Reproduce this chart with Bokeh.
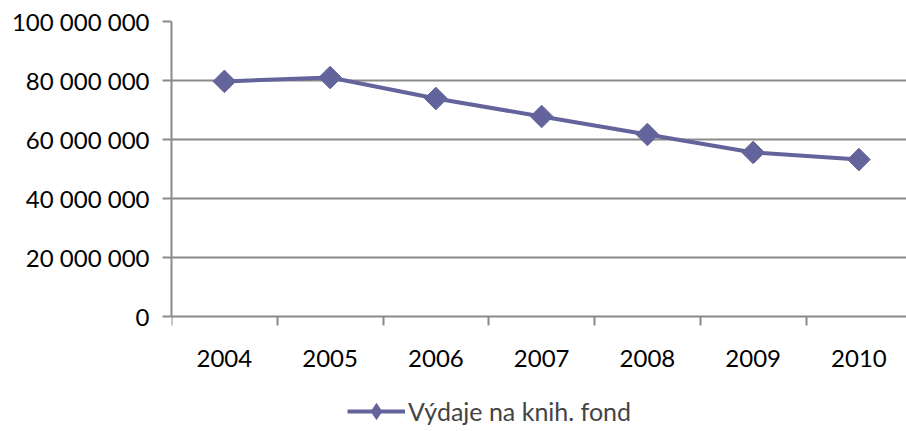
from bokeh.plotting import figure
from bokeh.models import Range1d, FixedTicker, Legend, LegendItem
from bokeh.embed import file_html
from bokeh.resources import INLINE

years = ["2004", "2005", "2006", "2007", "2008", "2009", "2010"]
expenses = [79700000, 81000000, 73900000, 67800000, 61700000, 55600000, 53200000]
y_ticks = [0, 20000000, 40000000, 60000000, 80000000, 100000000]
y_tick_labels = ["0", "20 000 000", "40 000 000", "60 000 000", "80 000 000", "100 000 000"]
series_name = "Výdaje na knih. fond"

FONT = "Lato"
GRID = "#8a8a8a"
LINE = "#64649c"

xs = list(range(len(years)))

# frame spans down to the canvas bottom; x axis is pinned at y = 0
p = figure(width=906, height=431, output_backend="svg", toolbar_location=None,
           x_range=Range1d(-0.5, 6.45), y_range=Range1d(-38983051, 100000000),
           min_border_left=171, min_border_right=0, min_border_top=21, min_border_bottom=0)
p.outline_line_color = None
p.background_fill_color = "white"
p.border_fill_color = "white"

# x axis: tick marks at category boundaries (minor), labels at centres
p.xaxis.fixed_location = 0
p.xaxis.ticker = FixedTicker(ticks=xs, minor_ticks=[i - 0.5 for i in range(len(years) + 1)])
p.xaxis.major_label_overrides = {i: y for i, y in zip(xs, years)}
p.xaxis.major_tick_out = 0
p.xaxis.major_tick_in = 0
p.xaxis.minor_tick_out = 9
p.xaxis.minor_tick_in = 0
p.xaxis.minor_tick_line_color = GRID
p.xaxis.minor_tick_line_width = 2
p.xaxis.axis_line_color = GRID
p.xaxis.axis_line_width = 2
p.xaxis.major_label_standoff = 24
p.xaxis.major_label_text_font = FONT
p.xaxis.major_label_text_font_size = "24px"
p.xaxis.major_label_text_color = "black"
p.xgrid.visible = False

p.yaxis.bounds = (0, 100000000)
p.yaxis.ticker = FixedTicker(ticks=y_ticks, minor_ticks=[])
p.yaxis.major_label_overrides = {t: l for t, l in zip(y_ticks, y_tick_labels)}
p.yaxis.major_tick_out = 9
p.yaxis.major_tick_in = 0
p.yaxis.major_tick_line_color = GRID
p.yaxis.major_tick_line_width = 2
p.yaxis.minor_tick_line_color = None
p.yaxis.axis_line_color = GRID
p.yaxis.axis_line_width = 2
p.yaxis.major_label_standoff = 13
p.yaxis.major_label_text_font = FONT
p.yaxis.major_label_text_font_size = "24px"
p.yaxis.major_label_text_color = "black"
p.ygrid.ticker = FixedTicker(ticks=y_ticks[1:], minor_ticks=[])
p.ygrid.grid_line_color = GRID
p.ygrid.grid_line_width = 2

ln = p.line(xs, expenses, line_color=LINE, line_width=4)
# diamond marker used for the legend swatch (hidden under the plot markers)
dm = p.scatter(xs, expenses, marker="diamond", size=10,
               fill_color=LINE, line_color=LINE)
mk = p.scatter(xs, expenses, marker="square", angle=0.785398, size=16,
               fill_color=LINE, line_color=LINE)

legend = Legend(items=[LegendItem(label=series_name, renderers=[ln, dm])],
                location=(176, 0), orientation="horizontal",
                label_text_font=FONT, label_text_font_size="25px",
                glyph_width=58, glyph_height=40, label_standoff=3,
                border_line_color=None, background_fill_alpha=0,
                padding=0, margin=0)
p.add_layout(legend, "center")

open("out.html", "w").write(file_html(p, INLINE))
